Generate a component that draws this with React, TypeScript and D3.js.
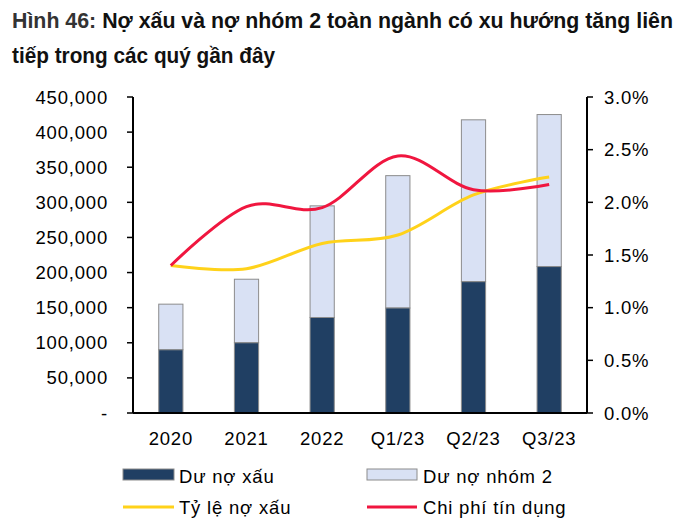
import React from 'react';
import * as d3 from 'd3';

const categories = ['2020', '2021', '2022', 'Q1/23', 'Q2/23', 'Q3/23'];
const badDebt = [90000, 100000, 136000, 149500, 187000, 208500];
const group2 = [65000, 90500, 159000, 188500, 230500, 216500];
const nplRatio = [1.4, 1.37, 1.61, 1.69, 2.07, 2.24];
const creditCost = [1.4, 1.96, 1.95, 2.44, 2.12, 2.17];
const leftTicks = [0, 50000, 100000, 150000, 200000, 250000, 300000, 350000, 400000, 450000];
const rightTicks = [0, 0.5, 1, 1.5, 2, 2.5, 3];

const FONT = "'Liberation Sans', Arial, sans-serif";

const App: React.FC = () => {
  const W = 700;
  const H = 530;
  const left = 133;
  const right = 587;
  const top = 97;
  const bottom = 413;

  const x = d3.scaleBand<string>().domain(categories).range([left, right]).paddingInner(0.68).paddingOuter(0.34);
  const yL = d3.scaleLinear().domain([0, 450000]).range([bottom, top]);
  const yR = d3.scaleLinear().domain([0, 3]).range([bottom, top]);
  const cx = (c: string) => (x(c) as number) + x.bandwidth() / 2;

  const fmt = d3.format(',');
  const line = d3
    .line<number>()
    .x((_, i) => cx(categories[i]))
    .y(d => yR(d))
    .curve(d3.curveCardinal.tension(0));

  const textStyle = { fontFamily: FONT, fontSize: 18.5, letterSpacing: 0.8 };

  return (
    <svg width={W} height={H} style={{ position: 'absolute', left: 0, top: 0 }}>
      <rect width={W} height={H} fill="#fff" />
      {/* title */}
      <text x={12} y={27.5} fontFamily={FONT} fontWeight="bold" fontSize={21.5} textLength={661} lengthAdjust="spacingAndGlyphs" fill="#111">
        <tspan fill="#333">Hình 46:</tspan> Nợ xấu và nợ nhóm 2 toàn ngành có xu hướng tăng liên
      </text>
      <text x={12} y={63} fontFamily={FONT} fontWeight="bold" fontSize={21.5} textLength={263} lengthAdjust="spacingAndGlyphs" fill="#111">
        tiếp trong các quý gần đây
      </text>

      {/* bars */}
      {categories.map((c, i) => (
        <g key={c}>
          <rect
            x={x(c)}
            y={yL(badDebt[i] + group2[i])}
            width={x.bandwidth()}
            height={yL(badDebt[i]) - yL(badDebt[i] + group2[i])}
            fill="#d9e1f4"
            stroke="#8c8c8c"
            strokeWidth={1}
          />
          <rect
            x={x(c)}
            y={yL(badDebt[i])}
            width={x.bandwidth()}
            height={bottom - yL(badDebt[i])}
            fill="#203f63"
            stroke="#8c8c8c"
            strokeWidth={1}
          />
        </g>
      ))}

      {/* lines */}
      <path d={line(nplRatio) || ''} fill="none" stroke="#ffd21a" strokeWidth={3} />
      <path d={line(creditCost) || ''} fill="none" stroke="#f0163f" strokeWidth={3} />

      {/* left axis */}
      <line x1={left} x2={left} y1={top} y2={bottom} stroke="#000" strokeWidth={2} />
      {leftTicks.map(t => (
        <g key={t}>
          <line x1={left - 6} x2={left} y1={yL(t)} y2={yL(t)} stroke="#000" strokeWidth={1.5} />
          <text x={108} y={yL(t) + 6.5} textAnchor="end" {...textStyle}>
            {t === 0 ? '-' : fmt(t)}
          </text>
        </g>
      ))}

      {/* right axis */}
      <line x1={right} x2={right} y1={top} y2={bottom} stroke="#000" strokeWidth={2} />
      {rightTicks.map(t => (
        <g key={t}>
          <line x1={right} x2={right + 6} y1={yR(t)} y2={yR(t)} stroke="#000" strokeWidth={1.5} />
          <text x={604} y={yR(t) + 6.5} {...textStyle}>
            {t.toFixed(1) + '%'}
          </text>
        </g>
      ))}

      {/* bottom axis */}
      <line x1={left} x2={right} y1={bottom} y2={bottom} stroke="#000" strokeWidth={2} />
      {categories.map(c => (
        <text key={c} x={cx(c)} y={445} textAnchor="middle" {...textStyle}>
          {c}
        </text>
      ))}

      {/* legend */}
      <rect x={123} y={469} width={51} height={11} fill="#203f63" stroke="#8c8c8c" />
      <text x={179} y={483} {...textStyle}>Dư nợ xấu</text>
      <rect x={367} y={469} width={50} height={11} fill="#d9e1f4" stroke="#8c8c8c" />
      <text x={423} y={483} {...textStyle}>Dư nợ nhóm 2</text>
      <line x1={123} x2={174} y1={507} y2={507} stroke="#ffd21a" strokeWidth={3} />
      <text x={179} y={514} {...textStyle}>Tỷ lệ nợ xấu</text>
      <line x1={367} x2={417} y1={507} y2={507} stroke="#f0163f" strokeWidth={3} />
      <text x={423} y={514} {...textStyle}>Chi phí tín dụng</text>
    </svg>
  );
};

export default App;
